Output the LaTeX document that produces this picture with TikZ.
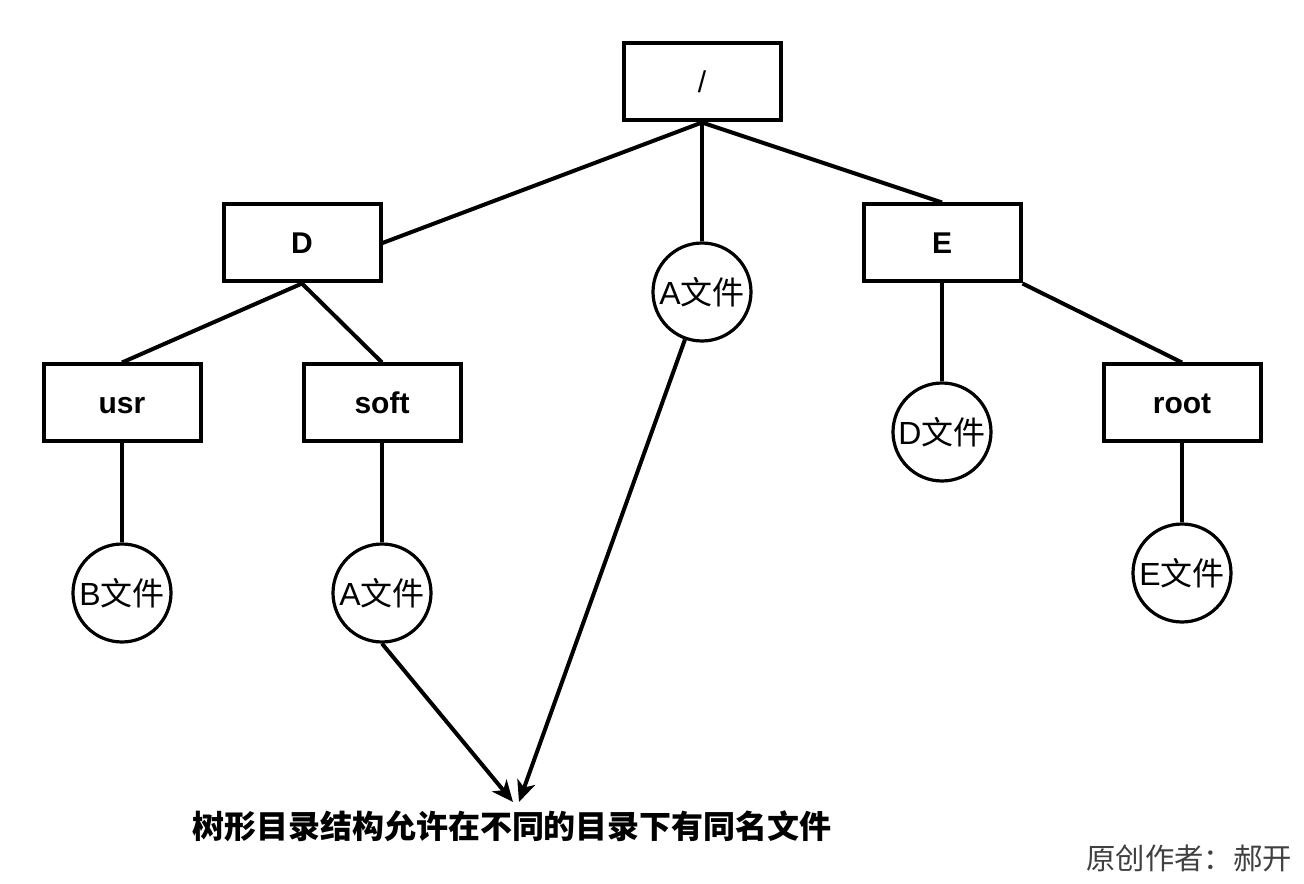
\documentclass[tikz,border=0pt]{standalone}
\usepackage{fontspec}
\setmainfont{Liberation Sans}
\newfontfamily\cjk{Noto Sans CJK SC}
\usetikzlibrary{arrows.meta}
\begin{document}
\begin{tikzpicture}[x=0.75pt,y=-0.75pt,
  line width=3pt,
  dirbox/.style={draw,rectangle,minimum width=117.75pt,minimum height=57.75pt,inner sep=0pt,text height=16.1pt,text depth=0pt,font=\fontsize{22.5}{26}\selectfont\bfseries},
  filec/.style={draw,circle,line width=2.4pt,minimum size=73.5pt,inner sep=0pt,font=\fontsize{24}{28}\selectfont},
  arr/.style={-{Stealth[length=16pt,width=14pt,inset=4.5pt]}}]
\useasboundingbox (0,0) rectangle (1304,884);
\node[dirbox] (root0) at (702,82) {\mdseries /};
\node[dirbox] (D) at (302,243) {D};
\node[dirbox] (E) at (942,243) {E};
\node[dirbox] (usr) at (122,403) {usr};
\node[dirbox] (soft) at (382,403) {soft};
\node[dirbox] (rootd) at (1182,403) {root};
\node[filec] (am) at (702,292) {A\cjk 文件};
\node[filec] (df) at (942,432) {D\cjk 文件};
\node[filec] (bf) at (122,593) {B\cjk 文件};
\node[filec] (sa) at (382,593) {A\cjk 文件};
\node[filec] (ef) at (1182,573) {E\cjk 文件};
\node[font=\cjk\bfseries\fontsize{24}{28}\selectfont] (note) at (512,826) {树形目录结构允许在不同的目录下有同名文件};
\node[font=\cjk\fontsize{22}{26}\selectfont,text=black!75] (author) at (1189,858) {原创作者：郝开};
\coordinate (ta) at (513,802);
\coordinate (tb) at (519,802);
\draw (root0.south) -- (D.east);
\draw (root0.south) -- (E.north);
\draw (root0.south) -- (am.north);
\draw (D.south) -- (usr.north);
\draw (D.south) -- (soft.north);
\draw (E.south) -- (df.north);
\draw (E.south east) -- (rootd.north);
\draw (usr.south) -- (bf.north);
\draw (soft.south) -- (sa.north);
\draw (rootd.south) -- (ef.north);
\draw[arr] (sa.south) -- (ta);
\draw[arr] (am) -- (tb);
\end{tikzpicture}
\end{document}
